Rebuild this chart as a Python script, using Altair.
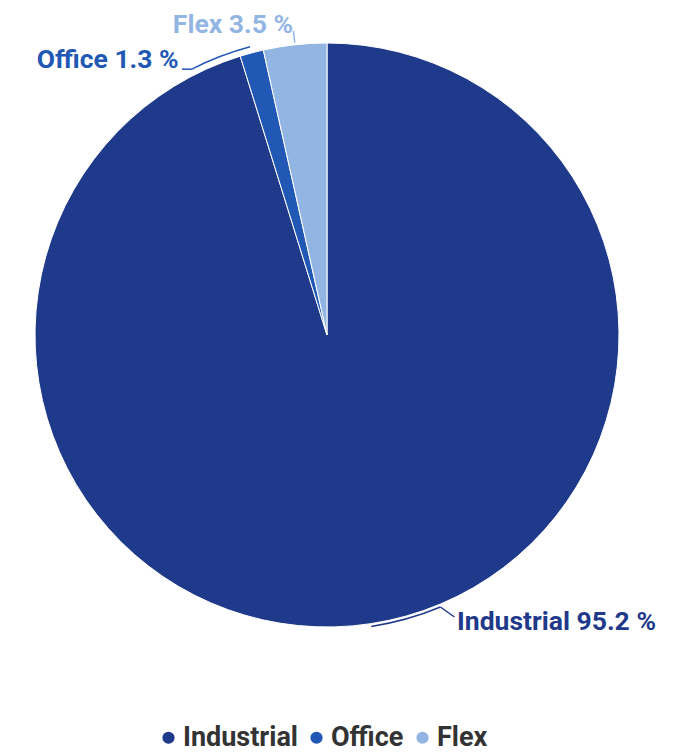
import altair as alt
import pandas as pd

categories = ["Industrial", "Office", "Flex"]
shares = [95.2, 1.3, 3.5]
colors = ["#1f3a8a", "#2158b5", "#92b5e3"]

df = pd.DataFrame({"category": categories, "share": shares,
                   "order": list(range(len(categories)))})

CX, CY, R = 327, 335, 292
FONT = "Roboto"
DEG = "PI / 180"

base = (
    alt.Chart(df)
    .transform_window(cum="sum(share)", sort=[alt.SortField("order")])
    .transform_joinaggregate(total="sum(share)")
    .transform_calculate(
        a1="datum.cum / datum.total * 2 * PI",
        a0="(datum.cum - datum.share) / datum.total * 2 * PI",
    )
    .transform_calculate(mid="(datum.a0 + datum.a1) / 2")
)

pie = base.mark_arc(radius=R, stroke="white", strokeWidth=1).encode(
    theta=alt.Theta("a0:Q", scale=None),
    theta2=alt.Theta2("a1:Q"),
    x=alt.value(CX),
    y=alt.value(CY),
    color=alt.Color(
        "category:N",
        scale=alt.Scale(domain=categories, range=colors),
        sort=categories,
        legend=alt.Legend(
            orient="none", direction="horizontal", legendX=155, legendY=724,
            title=None, symbolType="circle", symbolSize=150, symbolStrokeWidth=0,
            labelFont=FONT, labelFontSize=27, labelFontWeight="bold",
            labelColor="#333333", labelOffset=1, columnPadding=5,
        ),
    ),
)


def sel(i):
    return base.transform_filter(alt.datum.category == categories[i])


def label(i, align, dx, dy):
    return (
        sel(i)
        .transform_calculate(
            lx=f"{CX} + 300 * sin(datum.mid)",
            ly=f"{CY} - 300 * cos(datum.mid)",
            txt="datum.category + ' ' + format(datum.share, '.1f') + ' %'",
        )
        .mark_text(align=align, baseline="alphabetic", dx=dx, dy=dy, font=FONT,
                   fontSize=26.5, fontWeight="bold", color=colors[i])
        .encode(x=alt.X("lx:Q", scale=None, axis=None),
                y=alt.Y("ly:Q", scale=None, axis=None),
                text="txt:N")
    )


def lead_arc(i, back_deg, r):
    return (
        sel(i)
        .transform_calculate(t0=f"datum.mid - {back_deg} * {DEG}", t1="datum.mid")
        .mark_arc(radius=r, radius2=r + 1.5, color=colors[i])
        .encode(theta=alt.Theta("t0:Q", scale=None), theta2=alt.Theta2("t1:Q"),
                x=alt.value(CX), y=alt.value(CY))
    )


def lead_rule(i, ang_expr, r1, r2, ex, ey):
    # line starting at polar point (ang, r1); ends either at polar (ang, r2) or offset (ex, ey)
    if r2 is not None:
        x2e = f"{CX} + {r2} * sin({ang_expr})"
        y2e = f"{CY} - {r2} * cos({ang_expr})"
    else:
        x2e = f"{CX} + {r1} * sin({ang_expr}) + {ex}"
        y2e = f"{CY} - {r1} * cos({ang_expr}) + {ey}"
    return (
        sel(i)
        .transform_calculate(
            px1=f"{CX} + {r1} * sin({ang_expr})",
            py1=f"{CY} - {r1} * cos({ang_expr})",
            px2=x2e, py2=y2e,
        )
        .mark_rule(color=colors[i], strokeWidth=1.5)
        .encode(x=alt.X("px1:Q", scale=None, axis=None),
                y=alt.Y("py1:Q", scale=None, axis=None),
                x2="px2:Q", y2="py2:Q")
    )


layers = [
    pie,
    lead_arc(0, 14, 294),
    lead_rule(0, f"(datum.mid - 14 * {DEG})", 294.7, None, 14, 10),
    lead_arc(1, 12, 297.5),
    lead_rule(1, f"(datum.mid - 12 * {DEG})", 298.2, None, -10, 0),
    lead_rule(2, "datum.mid", 294, 306, 0, 0),
    label(0, "left", 85, -2),
    label(1, "right", -71, 23),
    label(2, "right", -1, -4),
]

chart = (
    alt.layer(*layers)
    .properties(width=673, height=753, padding=0, autosize=alt.AutoSizeParams(type="none"),
                background="white")
    .configure_view(stroke=None)
)

chart.save("out.html", embed_options={"renderer": "svg", "actions": False})
